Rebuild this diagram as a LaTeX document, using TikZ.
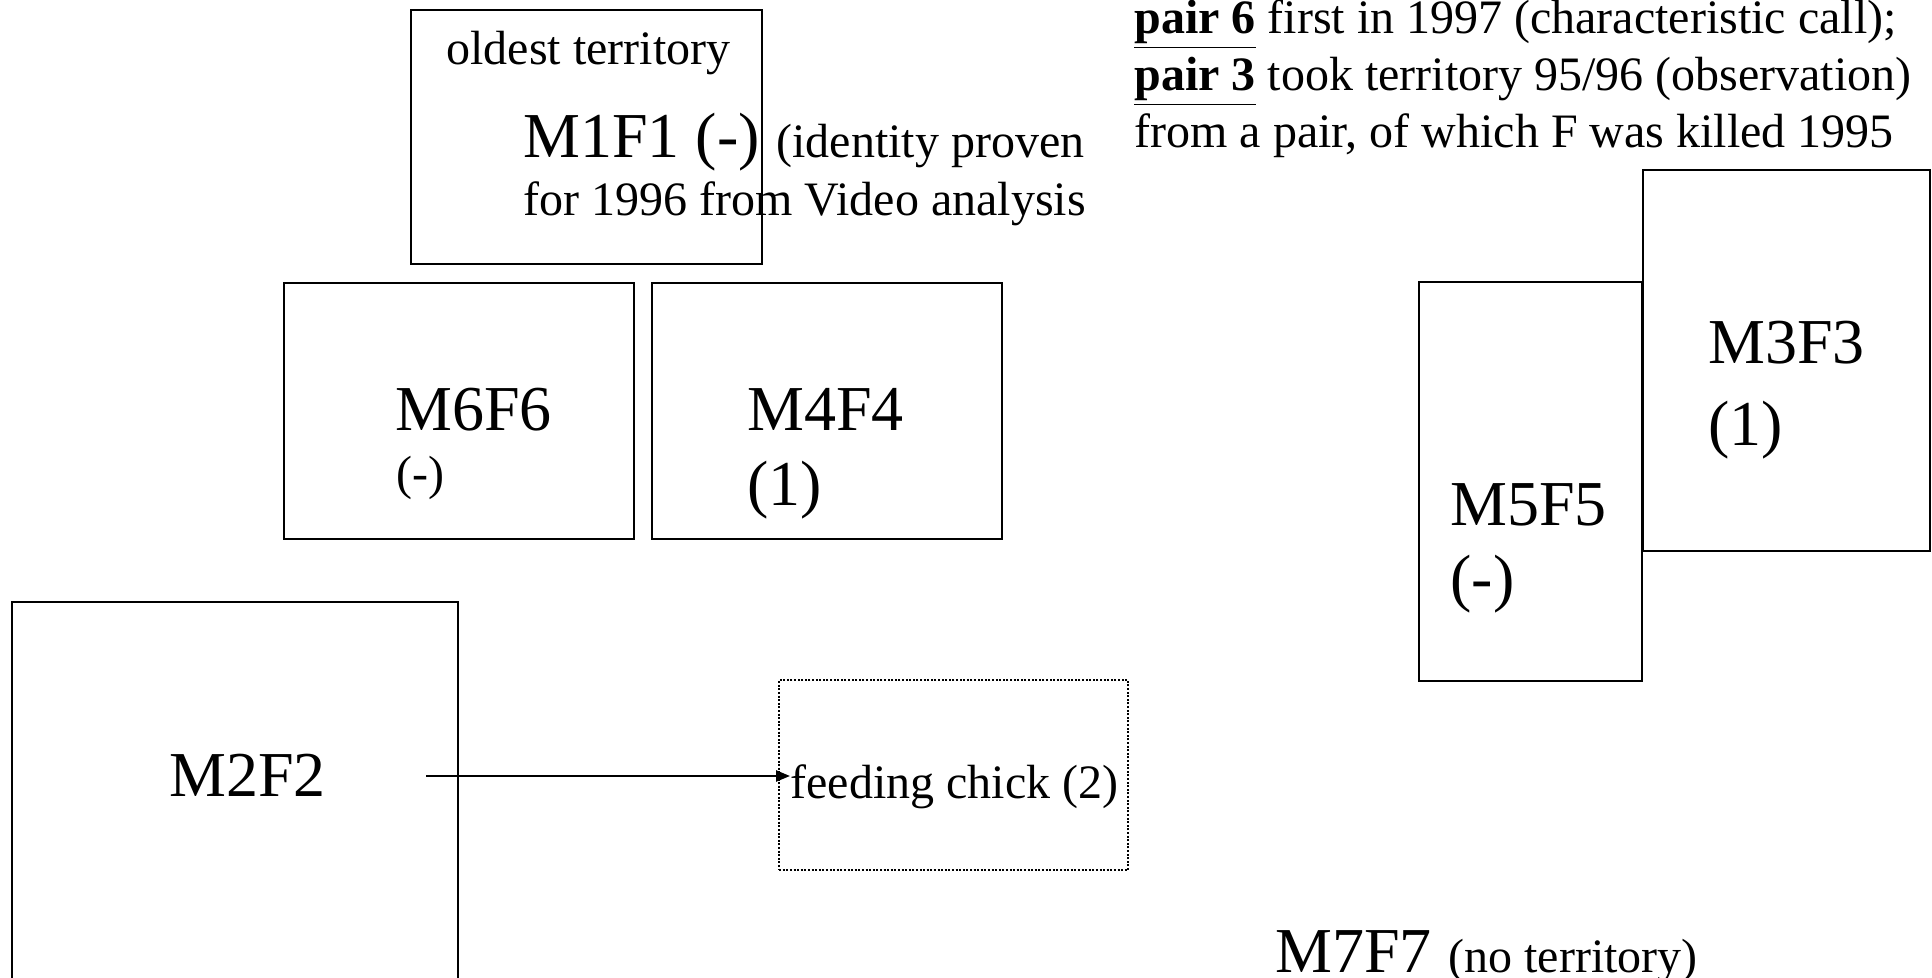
\documentclass[tikz,border=0pt]{standalone}
\usepackage{fontspec}
\setmainfont{Liberation Serif}
\usetikzlibrary{arrows.meta}
\begin{document}
\begin{tikzpicture}[x=0.5pt,y=-0.5pt,
  boxd/.style={draw, line width=1.2pt, inner sep=0pt, anchor=north west},
  dotbox/.style={draw, line width=1.1pt, dash pattern=on 1pt off 0.8pt, inner sep=0pt, anchor=north west},
  txs/.style={anchor=base west, inner sep=0pt, font=\fontsize{24}{28}\selectfont},
  txl/.style={anchor=base west, inner sep=0pt, font=\fontsize{32}{37}\selectfont},
  conn/.style={line width=1.2pt, -{Triangle[length=7pt,width=5.5pt]}}
]
\useasboundingbox (0,0) rectangle (1932,978);
\clip (0,0) rectangle (1932,978);

% territory boxes
\node[boxd, minimum width=175.5pt, minimum height=127pt] (t1) at (410,9) {};
\node[boxd, minimum width=175pt, minimum height=128pt] (t6) at (283,282) {};
\node[boxd, minimum width=175pt, minimum height=128pt] (t4) at (651,282) {};
\node[boxd, minimum width=111.5pt, minimum height=199.5pt] (t5) at (1418,281) {};
\node[boxd, minimum width=143.5pt, minimum height=190.5pt] (t3) at (1642,169) {};
\node[boxd, minimum width=223pt, minimum height=250pt] (t2) at (11,601) {};
\node[dotbox, minimum width=174.5pt, minimum height=95pt] (fcbox) at (778,679) {};

% texts
\node[txs] (old) at (446,65) {oldest territory};
\node[txl] (m1) at (523,158) {M1F1 (-)};
\node[txs] (id1) at (776,158) {(identity proven};
\node[txs] (id2) at (523,216) {for 1996 from Video analysis};

\node[txl] (m6) at (395,430) {M6F6};
\node[txs] (m6s) at (396,489) {(-)};
\node[txl] (m4) at (747,430) {M4F4};
\node[txl] (m4s) at (747,505) {(1)};

\node[txs] (n1) at (1134,34) {\underline{\textbf{pair 6}} first in 1997 (characteristic call);};
\node[txs] (n2) at (1134,91) {\underline{\textbf{pair 3}} took territory 95/96 (observation)};
\node[txs] (n3) at (1134,148) {from a pair, of which F was killed 1995};

\node[txl] (m3) at (1708,364) {M3F3};
\node[txl] (m3s) at (1708,445) {(1)};
\node[txl] (m5) at (1450,525) {M5F5};
\node[txl] (m5s) at (1450,599) {(-)};

\node[txl] (m2) at (169,796) {M2F2};
\node[txs] (fc) at (790,798) {feeding chick (2)};

\node[txl] (m7) at (1275,972) {M7F7};
\node[txs] (m7s) at (1448,972) {(no territory)};

% connector
\coordinate (arrS) at (426,776);
\draw[conn] (arrS) -- (fc.west |- arrS);
\end{tikzpicture}
\end{document}
